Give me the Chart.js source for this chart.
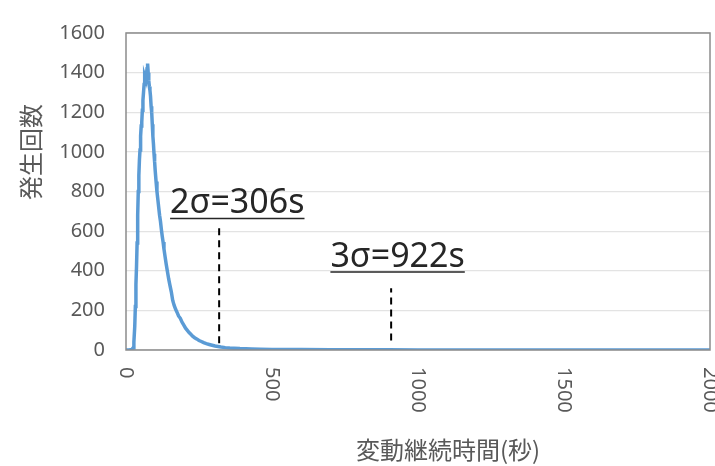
<!DOCTYPE html>
<html>
<head>
<meta charset="utf-8">
<title>変動継続時間の分布</title>
<script src="https://cdn.jsdelivr.net/npm/chart.js"></script>
<style>
  html, body { margin: 0; padding: 0; background: #fff; }
  .box { position: relative; width: 715px; height: 466px; }
</style>
</head>
<body>
<div class="box"><canvas id="durationChart"></canvas></div>
<script>
// 変動継続時間(秒) と 発生回数
const durations = [0, 10, 20, 24, 27, 30, 32, 34, 36, 38, 40, 42, 44, 46, 48, 50, 52, 54, 56, 58,
  60, 62, 64, 66, 68, 70, 72, 74, 76, 78, 80, 82, 84, 86, 88, 90, 92, 94, 96, 98,
  100, 103, 106, 109, 112, 115, 118, 121, 124, 127, 130, 134, 138, 142, 146, 150, 155, 160, 165, 170,
  175, 180, 186, 192, 198, 204, 210, 216, 222, 228, 235, 242, 250, 258, 266, 275, 285, 295, 305, 315,
  325, 340, 355, 370, 390, 410, 430, 460, 500, 550, 600, 700, 800, 900, 1000, 1200, 1500, 2000];
const counts = [0, 0, 2, 10, 40, 120, 220, 330, 420, 540, 680, 800, 880, 960, 1010, 1080, 1130, 1150, 1210, 1260,
  1300, 1340, 1380, 1370, 1410, 1390, 1420, 1446, 1400, 1360, 1330, 1310, 1280, 1230, 1200, 1140, 1080, 1040, 990, 950,
  905, 850, 800, 760, 720, 680, 650, 610, 575, 545, 510, 470, 430, 395, 360, 330, 295, 250, 225, 205,
  190, 172, 160, 140, 126, 110, 99, 88, 79, 70, 62, 56, 48, 43, 37, 32, 28, 24, 20, 18,
  15, 12, 10, 9, 7, 6, 5, 4, 3, 2, 2, 1, 1, 1, 0, 0, 0, 0];

// 2σ / 3σ の目安線
const sigmaNames = ['2σ=306s', '3σ=922s'];
const sigmaX = [319, 908];
const sigmaTop = [616, 312];
const sigmaBottom = [34, 48];
const sigmaLabelX = [151, 700];
const sigmaLabelY = [664, 394];

const xTicks = [0, 500, 1000, 1500, 2000];
const yMax = 1600;

const mainData = durations.map((t, i) => ({ x: t, y: counts[i] }));
const sigmaSets = sigmaX.map((x, i) => ({
  data: [{ x: x, y: sigmaBottom[i] }, { x: x, y: sigmaTop[i] }],
  borderColor: '#000',
  borderWidth: 2,
  borderDash: [7, 5],
  pointRadius: 0
}));

const TICK_FONT = '20px "Noto Sans", "Open Sans", sans-serif';
const CJK_FONT = '24px "Noto Sans CJK JP", sans-serif';

// 枠線、回転した目盛ラベル、軸タイトル、注記
const decor = {
  id: 'decor',
  afterDatasetsDraw(chart) {
    const { ctx, chartArea: a, scales } = chart;
    const xs = scales.x, ys = scales.y;
    ctx.save();
    ctx.strokeStyle = '#8c8c8c';
    ctx.lineWidth = 1.5;
    ctx.strokeRect(a.left, a.top, a.right - a.left, a.bottom - a.top);

    ctx.fillStyle = '#595959';
    ctx.font = TICK_FONT;
    ctx.textBaseline = 'middle';
    ctx.textAlign = 'left';
    xs.ticks.forEach(t => {
      const px = xs.getPixelForValue(t.value);
      ctx.save();
      ctx.translate(px, a.bottom + 17);
      ctx.rotate(Math.PI / 2);
      ctx.fillText(String(t.value), 0, 0);
      ctx.restore();
    });

    ctx.font = CJK_FONT;
    ctx.textAlign = 'center';
    ctx.fillText('変動継続時間(秒)', 448, 450);
    ctx.save();
    ctx.translate(31, 152);
    ctx.rotate(-Math.PI / 2);
    ctx.fillText('発生回数', 0, 0);
    ctx.restore();

    ctx.fillStyle = '#262626';
    ctx.strokeStyle = '#262626';
    ctx.font = '34px "Noto Sans", "Open Sans", sans-serif';
    ctx.textAlign = 'left';
    ctx.textBaseline = 'alphabetic';
    ctx.lineWidth = 1.5;
    sigmaNames.forEach((name, i) => {
      const lx = xs.getPixelForValue(sigmaLabelX[i]);
      const ly = ys.getPixelForValue(sigmaLabelY[i]);
      const w = ctx.measureText(name).width;
      ctx.fillText(name, lx, ly - 5);
      ctx.beginPath();
      ctx.moveTo(lx, ly);
      ctx.lineTo(lx + w, ly);
      ctx.stroke();
    });
    ctx.restore();
  }
};

new Chart(document.getElementById('durationChart'), {
  type: 'line',
  data: {
    datasets: [{
      data: mainData,
      borderColor: '#5b9bd5',
      borderWidth: 3.5,
      pointRadius: 0,
      tension: 0
    }, ...sigmaSets]
  },
  options: {
    responsive: true,
    maintainAspectRatio: false,
    animation: false,
    layout: { padding: { top: 17, right: 5, left: 0, bottom: 0 } },
    plugins: { legend: { display: false }, tooltip: { enabled: false } },
    scales: {
      x: {
        type: 'linear',
        min: 0,
        max: 2000,
        afterBuildTicks: s => { s.ticks = xTicks.map(v => ({ value: v })); },
        ticks: { display: false },
        grid: { display: false },
        border: { display: false },
        afterFit: s => { s.height = 116; }
      },
      y: {
        min: 0,
        max: yMax,
        ticks: {
          stepSize: 200,
          color: '#595959',
          font: { family: '"Noto Sans", "Open Sans", sans-serif', size: 20 },
          padding: 21,
          callback: v => String(v)
        },
        grid: { color: '#e3e3e3', lineWidth: 1.2, drawTicks: false },
        border: { display: false },
        afterFit: s => { s.width = 126; }
      }
    }
  },
  plugins: [decor]
});
</script>
</body>
</html>
